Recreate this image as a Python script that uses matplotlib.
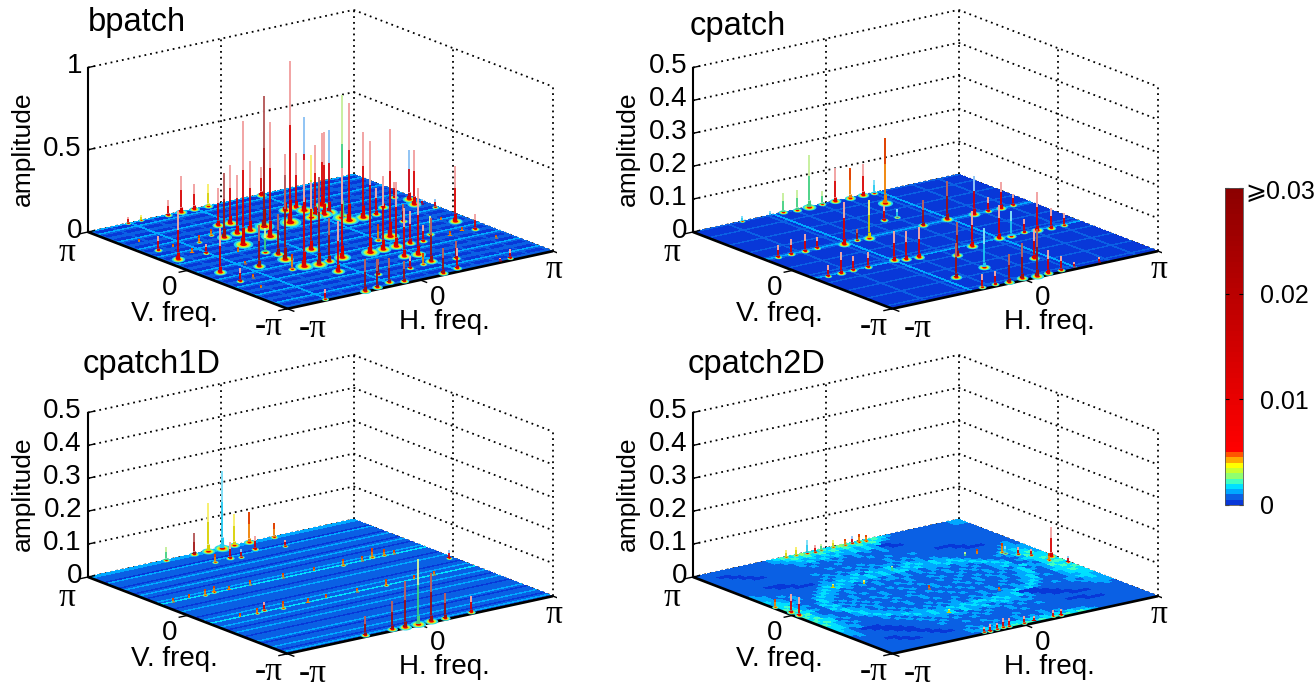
import numpy as np
import matplotlib
matplotlib.use('Agg')
import matplotlib.pyplot as plt
from matplotlib.colors import ListedColormap, Normalize, LinearSegmentedColormap
from matplotlib.cm import ScalarMappable
from matplotlib.markers import MarkerStyle
from matplotlib.path import Path
from matplotlib.transforms import Affine2D
from mpl_toolkits.mplot3d import proj3d

W, H = 1316, 691
plt.rcParams['font.family'] = ['Liberation Sans', 'DejaVu Sans']

# spikes. h, v are in 1/20 of the -pi..pi range (0..20)
# tone: r red, d dark red, o orange, y yellow, g green, b blue, c cyan
b_h = [3, 4, 6, 7, 8, 9, 13, 1.2, 1.1, 2.2,
       1, 2.4, 4.1, 3.1, 1.3, 1.2, 2.2, 1.3, 4, 3.6,
       4.7, 7.1, 5.5, 8, 7.1, 5.9, 6, 8.1, 9.2, 8.3,
       6.1, 12.2, 13.1, 11, 5.2, 13.1, 12.6, 13, 7.1, 13.6,
       6.4, 6, 19.1, 19, 18.9, 17.1, 16.2, 18.2, 18.5, 19.2,
       19.6, 19.1, 14.1, 13.1, 14.2, 13.1, 12.2, 12.1, 11, 15.1,
       16.1, 14.1, 9.1, 7.2, 8, 6.2, 8.6, 14.6, 14.1, 14.1,
       8.2, 7, 6, 3, 9.1, 12, 13.3, 12.1, 12.9, 8.7,
       11, 12.9, 17.3, 16.6, 15, 16.2, 17, 19.8, 19.6, 14.5]
b_v = [20, 20, 20, 20, 20, 20, 20, 16.5, 14.4, 14.4,
       12.3, 12.8, 14.3, 12.3, 8.5, 6.4, 6.4, 4.4, 8.2, 9,
       11.2, 16.4, 15, 16.4, 14.5, 14.2, 12.4, 14.5, 14.6, 12.8,
       8.4, 16.5, 16.6, 14.4, 6.5, 15.8, 14.4, 14.5, 6.3, 14.4,
       9.5, 10.2, 8.6, 6.5, 4.3, 0.5, 0.3, 6.7, 9.2, 12.9,
       13.9, 14.7, 8.5, 6.6, 6.6, 4.4, 4.6, 6.5, 6.4, 12.5,
       12.6, 12.6, 6.6, 4.5, 6.5, 6.6, 9.1, 16, 14.6, 13.3,
       0.7, 0.3, 0.2, 0.2, 0.4, 0.4, 0.7, 2.5, 2.8, 2.5,
       2.4, 8.1, 13.5, 10.5, 6.4, 7.3, 6.3, 11.6, 12.6, 2.4]
b_amp = [.04, .034, .09, .22, .15, .135, .165, .02, .09, .02,
         .29, .03, .04, .055, .27, .08, .025, .02, .25, .02,
         .03, .23, .04, .35, .35, .39, .75, .42, .79, .69,
         .51, .34, .33, .98, .09, .57, .38, .43, .53, .5,
         .24, .15, .33, .09, .02, .05, .02, .02, .02, .33,
         .3, .09, .65, .39, .19, .4, .29, .44, .68, .52,
         .16, .71, .54, .3, .26, .64, .41, .44, .5, .74,
         .15, .17, .19, .06, .12, .15, .12, .07, .26, .09,
         .07, .1, .19, .1, .1, .11, .03, .05, .03, .1]
b_tone = ('ryrrryrororoorrroodoororrdrrdrdrrrobyrdrdgrrorroor'
          'brrrrrrrrrrrrrdrrrbgdddrddroddrordrgobbd')

c_h = [3.7, 5.8, 6.8, 7.8, 8.7, 9.7, 10.7, 11.8, 12.8, 13.6,
       12.9, 1, 2, 3, 4, 1, 2, 3, 4.1, 6.1,
       6.9, 7.8, 5.8, 6.9, 7.8, 10.7, 11.7, 11.9, 13.9, 11.7,
       9.9, 7, 9.6, 7, 8, 9, 10.1, 11.1, 12, 13,
       14, 15.8, 14, 14.8, 15.9, 16.8, 17.8, 18.7, 16.9, 17.9,
       18.8, 15.8, 13.2]
c_v = [20, 20, 20, 20, 20, 20, 20, 20, 20, 20,
       17.9, 12.8, 12.8, 12.8, 12.9, 7.8, 7.8, 7.9, 7.9, 8,
       7.8, 7.7, 12.6, 12.7, 12.7, 15.1, 15.1, 12.8, 13, 7.6,
       6.7, 2.9, 3.6, 0.3, 0.4, 0.3, 0.5, 0.3, 0.4, 0.4,
       0.4, 0.3, 8, 7.8, 8, 7.9, 7.8, 7.7, 12.9, 12.9,
       12.9, 12.9, 3.4]
c_amp = [.017, .013, .06, .06, .158, .04, .1, .09, .096, .04,
         .198, .035, .045, .052, .032, .032, .064, .043, .043, .09,
         .086, .089, .128, .035, .113, .043, .025, .076, .116, .106,
         .098, .106, .12, .04, .04, .083, .106, .143, .07, .042,
         .015, .015, .098, .076, .04, .117, .059, .038, .04, .078,
         .035, .116, .086]
c_tone = 'ccggggrorcorrrrrrrrrrrrdyrcddrddcrrdddrrrrrcrrrrrrrbr'

d_h = [5.9, 8, 9, 10.1, 11, 12.1, 14, 9.2, 9.9, 11.6,
       13.3, 8, 4.2, 16.1, 17, 19.8, 10, 9, 11, 8.1,
       12.1, 14.1, 6.1, 4.3, 1, 2.2, 3.4, 5.2, 6.8, 9.3,
       11.6, 13.8, 15.2, 17.6, 2.3, 3.6, 5.5, 7.4, 8.8, 11.1,
       13.3, 15.4, 16.9]
d_v = [20, 20, 20, 20, 20, 20, 20, 18, 17.8, 18.7,
       18, 17.9, 13, 13, 13, 10.2, .2, .2, .2, .3,
       .3, .4, .3, 8.1, 12.8, 12.8, 12.8, 12.8, 12.8, 12.8,
       12.8, 12.8, 12.8, 12.8, 7.8, 7.8, 7.8, 7.8, 7.8, 7.8,
       7.8, 7.8, 7.8]
d_amp = [.04, .063, .147, .235, .096, .093, .04, .048, .025, .037,
         .02, .025, .017, .03, .017, .022, .197, .139, .146, .086,
         .074, .047, .058, .025, .01, .012, .017, .012, .015, .014,
         .012, .018, .014, .012, .012, .016, .02, .013, .014, .012,
         .02, .013, .014]
d_tone = 'gdycyoorbrroooobgddddrdroooooooooooooooooooo'[:43]

e_h = [.3, .3, .2, 19.9, 19, 18.5, 18, 19.3, 20, 6.9,
       8.5, 9.5, 10.5, 11.3, 11.9, 12.4, 9, 7.7, 12.9, 7.1,
       7.6, 8.1, 8.6, 9.1, 10.2, 11, 12.4, 13, 16.5, 15.7,
       18, 5.4, 7.3, 9.9, 13.1, 10.5, 7.9]
e_v = [10.6, 9.8, 12, 10.6, 11.4, 12, 13, 10, 9, 19.9,
       19.9, 19.8, 19.9, 19.8, 19.9, 19.9, 19.8, 19.9, 19.8, .3,
       .3, .3, .4, .4, .4, .4, .4, .4, 13.5, 13.6,
       12.7, 13.2, 12.6, 9.5, 6.8, 14, 4.8]
e_amp = [.055, .055, .025, .088, .02, .022, .028, .02, .016, .024,
         .038, .02, .022, .02, .023, .023, .02, .024, .018, .017,
         .02, .02, .03, .025, .02, .013, .02, .018, .015, .012,
         .022, .012, .012, .01, .01, .012, .012]
e_tone = 'rrorrrooby' 'cgyoboryor' 'rrrrrrrrog' 'cyyoogy'

# floor level along each axis, 81 cells, written in blocks of four
b_rows = '1100 1200 1100 1200 1100 1200 1100 1200 1100 1200 1100 1200 1100 1200 1100 1200 1100 1200 1100 1200 2'
b_cols = '1000 0010 0000 2000 0010 0000 1000 0000 2000 0010 0000 1000 0000 2000 0010 0000 1000 0100 0010 0000 1'
c_rows = '0010 0000 0010 0000 0010 0000 0010 0002 1010 0000 0010 0000 0012 1000 0010 0000 0010 0000 0010 0000 1'
c_cols = '0000 0000 0010 0000 0000 0010 2000 0010 0000 0010 0000 0010 0000 0010 2000 0000 0010 0000 0010 0000 0'
d_rows = '1210 1121 1101 2111 1011 1211 0112 1113 1121 1011 1112 1101 1113 1211 1011 2101 1121 0111 1201 1112 2'
d_cols = '0000 0000 0000 0000 0000 0000 0000 0000 0000 0000 0000 0000 0000 0000 0000 0000 0000 0000 0000 0000 0'

# cpatch2D floor is not a plaid, 41 x 41 cells, row 0 is V = -pi
e_floor = [
    '1111111111 1111223434 3434343434 3211111111 1',
    '1111111111 1112232323 3232323232 2111111111 1',
    '1111111111 1112121212 1212121211 1111111111 1',
    '1111100111 0011211121 1211121111 1111111111 1',
    '1111001110 0111111211 1121111111 1110001111 1',
    '1110011100 1111121111 1111211111 1000111111 1',
    '1111111001 1121111212 1112111211 1111111111 1',
    '1111110001 1112121121 2112121111 1110001111 1',
    '1211100011 1121212212 1221212211 1000111112 1',
    '2211000111 1212223132 2312322121 0001111122 2',
    '2210001111 2122323232 3223232320 0011111222 2',
    '3212111112 1232322323 2332322300 0111112123 2',
    '3322111121 2322212122 1212122232 3211212233 2',
    '3321211123 2212121212 1121211212 2321111223 3',
    '4322111232 2121112111 2111212112 1232111233 3',
    '3431212322 1211211121 1121112121 1223121234 3',
    '4332112321 2111211211 1211211112 1123211333 4',
    '3422113221 2112111211 2112112111 2122311234 3',
    '4321123212 1211212112 1121121211 2112321243 3',
    '3421132121 2112111211 1211211212 1212312234 4',
    '4332123212 1121211121 1211121121 2121232133 3',
    '3421132121 2111211211 2112112111 2123211234 4',
    '4322123211 2121112112 1111211212 1122312333 3',
    '3421113221 1211211121 2112112121 2123211243 3',
    '3332112322 1211112111 2111212112 1232112334 2',
    '2321211232 2121212122 1212121212 2321121233 2',
    '3221211123 2322121212 1212122232 3211112232 2',
    '2212111112 3232322323 2332322323 2111111222 2',
    '2211111111 2223232323 2323232322 1111111122 1',
    '2111111000 1212223132 2312322121 1111111112 1',
    '1111100011 1121212212 1221212111 1111000111 1',
    '1111000111 1112121121 2112121111 1110011111 1',
    '1111111111 1121111212 1112111211 1000111111 1',
    '1111111111 1111121111 1111211111 1111111111 1',
    '1111111111 1111111211 1121111111 1111111111 1',
    '1111100111 1111211121 1211121111 1111111111 1',
    '1111001111 1112121212 1212121001 1111111111 1',
    '1110011111 1112232323 2232320011 1111111111 1',
    '1100111111 1122323232 3232323111 1111111111 1',
    '1111111111 1223434343 4343434321 1111111112 2',
    '1111111111 1234345434 3454343432 1111111112 2',
]

low_colors = ['#0838d8', '#0a60e4', '#00a8ff', '#00e0ff', '#40ffc0',
              '#90ff70', '#c8ff30', '#ffff00', '#ffaa00', '#ff5500']
high_colors = LinearSegmentedColormap.from_list(
    'reds', ['#ff0000', '#8c0000'])(np.linspace(0, 1, 50))
cmap = ListedColormap(list(low_colors) + [tuple(c) for c in high_colors])
norm = Normalize(0, 0.03)

# low part of a spike, top part of a spike
tones = {'r': ('#d80000', '#f2a4a4'), 'd': ('#a01010', '#b86060'),
         'o': ('#f08000', '#e04000'), 'y': ('#d8d000', '#f8f070'),
         'g': ('#40d080', '#c8f0a0'), 'b': ('#c80010', '#90c4f4'),
         'c': ('#20c8f0', '#80e0f8')}

ellipse = MarkerStyle(Path.unit_circle().transformed(Affine2D().scale(1, 0.45)))


def read_digits(text):
    return np.array([int(c) for c in text.replace(' ', '')])


def px_text(x, y, s, **kw):
    kw.setdefault('ha', 'center')
    kw.setdefault('va', 'center')
    fig.text(x / W, 1 - y / H, s, **kw)


def to_x(i):
    return (np.asarray(i, dtype=float) - 10) * np.pi / 10


def fit_axes(ax, left_px, right_px):
    # put the left and right corners of the floor on the wanted pixels
    corners = [[-np.pi, np.pi, 0], [np.pi, -np.pi, 0]]

    def measure():
        ax.apply_aspect()
        xs, ys, _ = proj3d.proj_transform(*np.array(corners).T, ax.get_proj())
        return ax.transData.transform(np.c_[xs, ys])

    side = 500.0
    ax.set_position([0, 0, side / W, side / H])
    p = measure()
    side = side * (right_px[0] - left_px[0]) / (p[1, 0] - p[0, 0])
    ax.set_position([0, 0, side / W, side / H])
    p = measure()
    ax.set_position([(left_px[0] - p[0, 0]) / W,
                     ((H - left_px[1]) - p[0, 1]) / H, side / W, side / H])


def draw_panel(ox, oy, title, title_xy, floor, h, v, amp, tone, ztop, zticks,
               zlabels):
    ax = fig.add_axes([0, 0, .5, .5], projection='3d', proj_type='ortho',
                      computed_zorder=False)
    ax.view_init(elev=16.8, azim=-126.9)
    ax.set_xlim(-np.pi, np.pi)
    ax.set_ylim(-np.pi, np.pi)
    ax.set_zlim(0, ztop)
    ax.set_box_aspect((1, 1, 172 / 332.5))
    ax.set_axis_off()
    ax.patch.set_visible(False)  # the axes squares overlap each other
    fit_axes(ax, (88 + ox, 232 + oy), (553 + ox, 250 + oy))

    p = np.pi
    dots = dict(color='k', ls=(0, (1, 2.2)), lw=1.3, zorder=0.5)
    for z in zticks:
        ax.plot([-p, p], [p, p], [z, z], **dots)
        ax.plot([p, p], [p, -p], [z, z], **dots)
    for x, y in [(0, p), (p, p), (p, 0), (p, -p)]:
        ax.plot([x, x], [y, y], [0, ztop], **dots)

    # floor
    n_r, n_c = floor.shape
    xe, ye = np.meshgrid(np.linspace(-p, p, n_c + 1), np.linspace(-p, p, n_r + 1))
    fc = cmap(norm((floor + 0.5) * 0.0005))
    ax.plot_surface(xe, ye, np.zeros_like(xe), facecolors=fc, rstride=1,
                    cstride=1, shade=False, linewidth=0, antialiased=False,
                    zorder=1)

    # axis lines and ticks
    solid = dict(color='k', lw=1.9, zorder=1.5, solid_capstyle='butt')
    ax.plot([-p, -p], [p, -p], [0, 0], **solid)
    ax.plot([-p, p], [-p, -p], [0, 0], **solid)
    ax.plot([-p, -p], [p, p], [0, ztop], color='k', lw=1.5, zorder=1.5)
    for t in [-p, 0, p]:
        ax.plot([-p, -p - .2], [t, t], [0, 0], color='k', lw=1, zorder=1.5)
        ax.plot([t, t], [-p, -p - .2], [0, 0], color='k', lw=1, zorder=1.5)
    for z in zticks:
        ax.plot([-p, -p + .15], [p, p], [z, z], color='k', lw=1, zorder=1.5)

    # spikes, far ones first
    h = np.asarray(h, dtype=float)
    v = np.asarray(v, dtype=float)
    amp = np.asarray(amp, dtype=float)
    order = np.argsort(-(0.6 * h + 0.8 * v))
    xs, ys = to_x(h), to_x(v)
    for rank, k in enumerate(order):
        z0 = 2 + rank * 0.01
        a = amp[k]
        size = 22 * (a / ztop) ** 0.4
        low, top = tones[tone[k]]
        if a / ztop > 0.03:
            for frac, col, zz in [(1, '#20d8f0', 0), (.75, '#a0ff60', .001),
                                  (.55, '#ffd000', .002), (.35, '#e80000', .003)]:
                ax.scatter([xs[k]], [ys[k]], [0], s=(0.72 * size * frac) ** 2,
                           marker=ellipse, color=col, linewidths=0,
                           depthshade=False, zorder=z0 + zz)
        xx, yy = [xs[k]] * 2, [ys[k]] * 2
        for z_a, z_b, lw, col in [(0, .05, 3.2, low), (.05, .14, 2.2, low),
                                  (.14, .6, 1.3, low), (.6, 1, 1.4, top)]:
            ax.plot(xx, yy, [a * z_a, a * z_b], color=col, lw=lw,
                    zorder=z0 + .005, solid_capstyle='butt')

    # texts
    px_text(*title_xy, title, fontsize=23.5)
    for z, s in zip(zticks, zlabels):
        px_text(82 + ox, 231 + oy - 165 * z / ztop, s, ha='right', fontsize=20)
    px_text(23 + ox, 149 + oy, 'amplitude', rotation=90, fontsize=19)
    px_text(174 + ox, 314 + oy, 'V. freq.', fontsize=20)
    px_text(444 + ox, 322 + oy, 'H. freq.', fontsize=20)
    pi_font = dict(fontsize=24, family='Liberation Serif')
    px_text(67 + ox, 253 + oy, '\u03c0', **pi_font)
    px_text(269 + ox, 327 + oy, '-\u03c0', **pi_font)
    px_text(313 + ox, 329 + oy, '-\u03c0', **pi_font)
    px_text(554 + ox, 270 + oy, '\u03c0', **pi_font)
    px_text(170 + ox, 288 + oy, '0', fontsize=20)
    px_text(438 + ox, 298 + oy, '0', fontsize=20)
    return ax


fig = plt.figure(figsize=(W / 100, H / 100), dpi=100)

b_floor = np.maximum.outer(read_digits(b_rows), read_digits(b_cols))
c_floor = np.maximum.outer(read_digits(c_rows), read_digits(c_cols))
d_floor = np.maximum.outer(read_digits(d_rows), read_digits(d_cols))
e_levels = np.array([read_digits(r) for r in e_floor])

half_ticks = [0, .1, .2, .3, .4, .5]
half_labels = ['0', '0.1', '0.2', '0.3', '0.4', '0.5']
draw_panel(0, 0, 'bpatch', (137, 22), b_floor, b_h, b_v, b_amp, b_tone, 1,
           [0, .5, 1], ['0', '0.5', '1'])
draw_panel(605, 0, 'cpatch', (738, 27), c_floor, c_h, c_v, c_amp, c_tone, .5,
           half_ticks, half_labels)
draw_panel(0, 345, 'cpatch1D', (152, 365), d_floor, d_h, d_v, d_amp, d_tone, .5,
           half_ticks, half_labels)
draw_panel(605, 345, 'cpatch2D', (757, 365), e_levels, e_h, e_v, e_amp, e_tone, .5,
           half_ticks, half_labels)

# colorbar
cax = fig.add_axes([1225 / W, 1 - 505 / H, 18 / W, 317 / H])
cb = fig.colorbar(ScalarMappable(norm=norm, cmap=cmap), cax=cax,
                  ticks=[0, .01, .02, .03])
cb.ax.set_yticklabels(['0', '0.01', '0.02', ''], fontsize=18)
cb.ax.tick_params(direction='in', length=3, width=.8, left=True, right=True, pad=12)
cb.outline.set_linewidth(.6)
cb.outline.set_edgecolor('#555555')
px_text(1245, 192, '\u2a7e0.03', ha='left', fontsize=18)

fig.savefig('out.png', dpi=100, facecolor='white')
